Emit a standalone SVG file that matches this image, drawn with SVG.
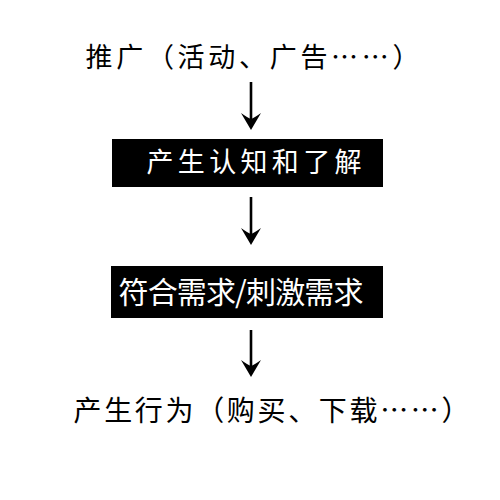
<svg xmlns="http://www.w3.org/2000/svg" width="500" height="500" viewBox="0 0 500 500">
<defs>
<style>
.lbl{font-family:"Noto Sans CJK SC","Noto Sans",sans-serif;fill:#000;}
.box{fill:#000;}
.inv{font-family:"Noto Sans CJK SC","Noto Sans",sans-serif;fill:#fff;}
.conn{stroke:#000;stroke-width:2.6;fill:none;marker-end:url(#ah);}
</style>
<marker id="ah" markerUnits="userSpaceOnUse" viewBox="-1 -11 19 22" markerWidth="19" markerHeight="22" refX="7" refY="0" orient="auto" overflow="visible">
<path d="M17,0 L0,-10 Q5,-3 6,0 Q5,3 0,10 Z" fill="#000"/>
</marker>
</defs>
<rect width="500" height="500" fill="#fff"/>
<g id="n1">
<text class="lbl" x="85.5" y="67" font-size="27" textLength="334" lengthAdjust="spacing">推广（活动、广告……）</text>
</g>
<g id="n2">
<rect class="box" x="112" y="139" width="271" height="48"/>
<text class="inv" x="146.5" y="172" font-size="27" textLength="215" lengthAdjust="spacing">产生认知和了解</text>
</g>
<g id="n3">
<rect class="box" x="111" y="266" width="272" height="52"/>
<text class="inv" x="118.5" y="302.5" font-size="30" textLength="245" lengthAdjust="spacing">符合需求/刺激需求</text>
</g>
<g id="n4">
<text class="lbl" x="73.5" y="420.5" font-size="28" textLength="396" lengthAdjust="spacing">产生行为（购买、下载……）</text>
</g>
<g id="connectors">
<line class="conn" x1="251" y1="82" x2="251" y2="120"/>
<line class="conn" x1="251" y1="197" x2="251" y2="235"/>
<line class="conn" x1="251" y1="330" x2="251" y2="367"/>
</g>
</svg>
